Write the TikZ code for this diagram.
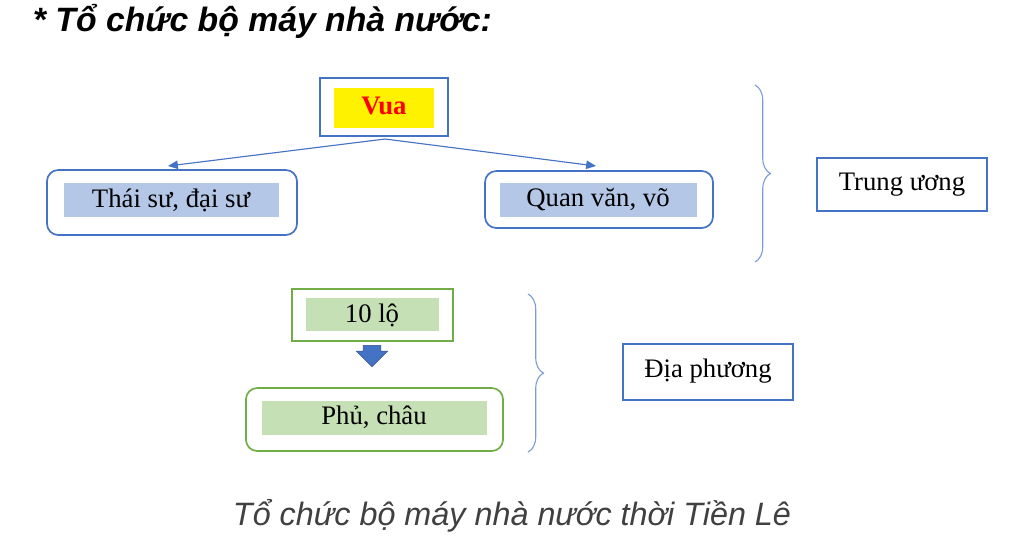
\documentclass[tikz,border=0pt]{standalone}
\usepackage{fontspec}
\setmainfont{Liberation Serif}
\newfontfamily\arialfont{Liberation Sans}
\usetikzlibrary{decorations.pathreplacing,arrows.meta,shapes.arrows}
\definecolor{boxblue}{RGB}{68,114,196}
\definecolor{fillblue}{RGB}{180,199,231}
\definecolor{boxgreen}{RGB}{112,173,71}
\definecolor{fillgreen}{RGB}{197,224,180}
\definecolor{capgray}{RGB}{64,64,64}
\tikzset{
  outerbox/.style={draw=boxblue, line width=1.2pt, rounded corners=8pt},
  greenbox/.style={draw=boxgreen, line width=1.2pt},
  label/.style={font=\fontsize{19}{22}\selectfont},
  link/.style={boxblue, line width=0.8pt, -{Triangle[length=7pt,width=6pt]}},
  bracket/.style={boxblue!70, line width=0.8pt, decorate, decoration={brace, amplitude=11pt}}
}
\begin{document}
\begin{tikzpicture}[x=0.025cm, y=-0.025cm]
            \useasboundingbox (0,0) rectangle (1024,549);
            % title
            \node[anchor=west, font=\arialfont\bfseries\itshape\fontsize{24}{28}\selectfont] (title) at (28,21) {* Tổ chức bộ máy nhà nước:};

            % king
            \draw [boxblue, line width=1.2pt] (320,78) rectangle (448,136);
            \fill [yellow] (334,88) rectangle (434,128);
            \node[label, text=red, font=\bfseries\fontsize{19}{22}\selectfont] (vua) at (384,106) {Vua};
            \coordinate (top) at (385,139);

            % central
            \draw [outerbox] (47,170) rectangle (297,235);
            \fill [fillblue] (64,183) rectangle (279,217);
            \node[label] (thaisu) at (171,200) {Thái sư, đại sư};
            \draw [outerbox] (485,171) rectangle (713,228);
            \fill [fillblue] (500,183) rectangle (697,217);
            \node[label] (quan) at (598,200) {Quan văn, võ};
            \coordinate (tl) at (168,166); \coordinate (tr) at (596,166);
            \draw [link] (top) -- (tl);
            \draw [link] (top) -- (tr);

            \draw [bracket] (755,85) -- (755,262);
            \draw [boxblue, line width=1.2pt] (817,158) rectangle (987,211);
            \node[label] (tw) at (902,185) {Trung ương};

            % local
            \draw [greenbox] (292,289) rectangle (453,341);
            \fill [fillgreen] (306,298) rectangle (439,331);
            \node[label] (lo) at (372,315) {10 lộ};
            \node[single arrow, shape border rotate=270, fill=boxblue, draw=boxblue!70!black,
                  minimum height=38\pgflinewidth, single arrow head extend=4pt,
                  inner sep=0pt, minimum width=22pt, text width=10pt, anchor=north] (down) at (372,345) {};
            \draw [greenbox, rounded corners=8pt] (246,388) rectangle (503,451);
            \fill [fillgreen] (262,401) rectangle (487,435);
            \node[label] (phu) at (374,417) {Phủ, châu};

            \draw [bracket] (528,294) -- (528,452);
            \draw [boxblue, line width=1.2pt] (623,344) rectangle (793,400);
            \node[label] (dp) at (708,371) {Địa phương};

            % caption
            \node[text=capgray, font=\arialfont\itshape\fontsize{23}{27}\selectfont] (cap) at (512,516) {Tổ chức bộ máy nhà nước thời Tiền Lê};
\end{tikzpicture}
\end{document}
